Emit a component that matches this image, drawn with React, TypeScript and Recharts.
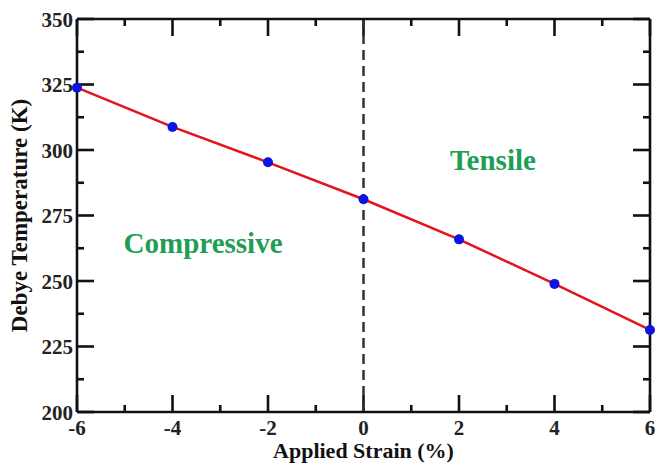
import React from 'react';
import { ComposedChart, Line, XAxis, YAxis, ReferenceLine, ReferenceDot } from 'recharts';

const strain = [-6, -4, -2, 0, 2, 4, 6];
const debyeTemp = [323.8, 308.8, 295.3, 281.2, 265.9, 248.9, 231.3];
const xTicks = [-6, -5, -4, -3, -2, -1, 0, 1, 2, 3, 4, 5, 6];
const yTicks = [200, 212.5, 225, 237.5, 250, 262.5, 275, 287.5, 300, 312.5, 325, 337.5, 350];
const xMajor = [-6, -4, -2, 0, 2, 4, 6];
const yMajor = [200, 225, 250, 275, 300, 325, 350];
const regionLabels = ['Compressive', 'Tensile'];
const regionX = [-3.36, 2.71];
const regionY = [264.5, 296.2];

const data = strain.map((s, i) => ({ strain: s, temp: debyeTemp[i] }));

const FONT = '"Liberation Serif", "Times New Roman", serif';
const X0 = -6;
const X1 = 6;
const Y0 = 200;
const Y1 = 350;
const PLOT_W = 573;
const PLOT_H = 393;
const MAJ_PX = 17;
const MIN_PX = 7;
const xLen = (px: number) => (px * (X1 - X0)) / PLOT_W;
const yLen = (px: number) => (px * (Y1 - Y0)) / PLOT_H;

const tickSegments: { key: string; seg: { x: number; y: number }[] }[] = [];
xTicks.forEach((v) => {
  const px = xMajor.includes(v) ? MAJ_PX : MIN_PX;
  tickSegments.push({ key: `xb${v}`, seg: [{ x: v, y: Y0 }, { x: v, y: Y0 + yLen(px) }] });
  tickSegments.push({ key: `xt${v}`, seg: [{ x: v, y: Y1 }, { x: v, y: Y1 - yLen(px) }] });
});
yTicks.forEach((v) => {
  const px = yMajor.includes(v) ? MAJ_PX : MIN_PX;
  tickSegments.push({ key: `yl${v}`, seg: [{ x: X0, y: v }, { x: X0 + xLen(px), y: v }] });
  tickSegments.push({ key: `yr${v}`, seg: [{ x: X1, y: v }, { x: X1 - xLen(px), y: v }] });
});

const renderBottomTick = (props: any) => {
  const x = Number(props.x);
  const y = Number(props.y);
  const v = props.payload.value;
  if (!xMajor.includes(v)) return <g key={`b${v}`} />;
  return (
    <text key={`b${v}`} x={x} y={y + 23} textAnchor="middle" fontFamily={FONT} fontWeight="bold" fontSize={21} fill="#222222">
      {v}
    </text>
  );
};

const renderLeftTick = (props: any) => {
  const x = Number(props.x);
  const y = Number(props.y);
  const v = props.payload.value;
  if (!yMajor.includes(v)) return <g key={`l${v}`} />;
  return (
    <text key={`l${v}`} x={x - 4} y={y} dy="0.36em" textAnchor="end" fontFamily={FONT} fontWeight="bold" fontSize={21} fill="#222222">
      {v}
    </text>
  );
};

const XTitle = (props: any) => {
  const { viewBox } = props;
  return (
    <text x={viewBox.x + viewBox.width / 2} y={viewBox.y + 46} textAnchor="middle" fontFamily={FONT} fontWeight="bold" fontSize={22} fill="#111">
      Applied Strain (%)
    </text>
  );
};

const YTitle = (props: any) => {
  const { viewBox } = props;
  const cx = viewBox.x + 19;
  const cy = viewBox.y + viewBox.height / 2;
  return (
    <text x={cx} y={cy} dy="0.36em" transform={`rotate(-90 ${cx} ${cy})`} textAnchor="middle" fontFamily={FONT} fontWeight="bold" fontSize={23} fill="#111">
      Debye Temperature (K)
    </text>
  );
};

const axisLineStyle = { stroke: '#111111', strokeWidth: 2.6 };

export default function App() {
  return (
    <div style={{ position: 'absolute', left: 0, top: 0 }}>
      <ComposedChart width={657} height={466} data={data} margin={{ top: 0, right: 0, bottom: 0, left: 0 }}>
        <XAxis
          dataKey="strain"
          type="number"
          domain={[X0, X1]}
          ticks={xTicks}
          interval={0}
          height={54}
          tickSize={0}
          tickMargin={0}
          tickLine={false}
          axisLine={axisLineStyle}
          tick={renderBottomTick}
          label={<XTitle />}
        />
        <XAxis
          xAxisId="top"
          orientation="top"
          dataKey="strain"
          type="number"
          domain={[X0, X1]}
          ticks={xTicks}
          interval={0}
          height={19}
          tickSize={0}
          tickMargin={0}
          tickLine={false}
          axisLine={axisLineStyle}
          tick={false}
        />
        <YAxis
          type="number"
          domain={[Y0, Y1]}
          ticks={yTicks}
          interval={0}
          width={77}
          tickSize={0}
          tickMargin={0}
          tickLine={false}
          axisLine={axisLineStyle}
          tick={renderLeftTick}
          label={<YTitle />}
        />
        <YAxis
          yAxisId="right"
          orientation="right"
          type="number"
          domain={[Y0, Y1]}
          ticks={yTicks}
          interval={0}
          width={7}
          tickSize={0}
          tickMargin={0}
          tickLine={false}
          axisLine={axisLineStyle}
          tick={false}
        />
        {tickSegments.map((t) => (
          <ReferenceLine key={t.key} segment={t.seg} stroke="#111111" strokeWidth={2.6} ifOverflow="visible" />
        ))}
        <ReferenceLine x={0} stroke="#333" strokeWidth={2.5} strokeDasharray="10 6" />
        <Line
          dataKey="temp"
          type="linear"
          stroke="#e3141c"
          strokeWidth={2.5}
          dot={{ r: 5, fill: '#0b14e0', stroke: 'none' }}
          isAnimationActive={false}
        />
        {regionLabels.map((t, i) => (
          <ReferenceDot
            key={t}
            x={regionX[i]}
            y={regionY[i]}
            r={0}
            stroke="none"
            fill="none"
            label={{ value: t, position: 'center', fill: '#1f9e55', fontSize: 29, fontWeight: 'bold', fontFamily: FONT }}
          />
        ))}
      </ComposedChart>
    </div>
  );
}
